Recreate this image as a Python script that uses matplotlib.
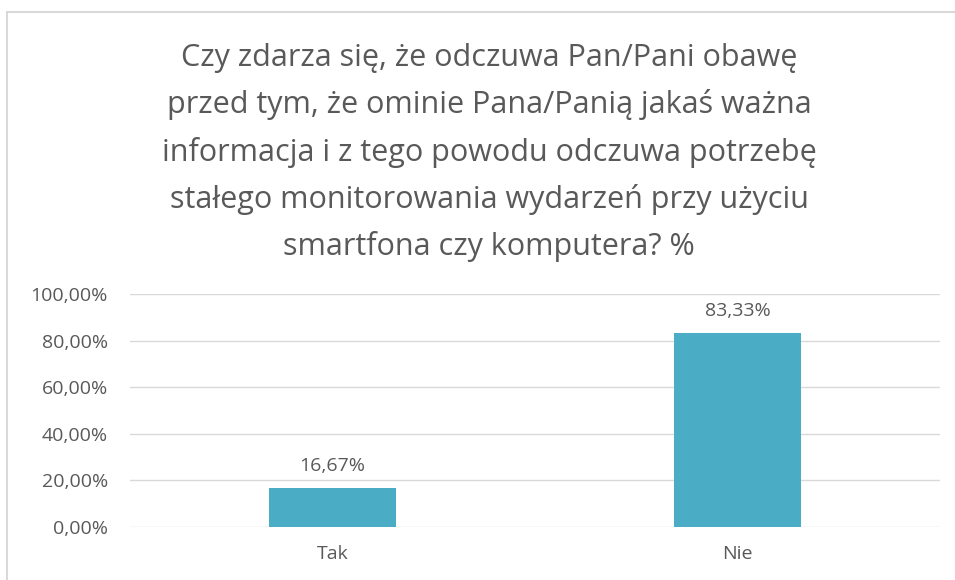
import matplotlib.pyplot as plt
from matplotlib.patches import Rectangle

# data
categories = ["Tak", "Nie"]
values = [16.67, 83.33]
yticks = [0, 20, 40, 60, 80, 100]
title_lines = [
    "Czy zdarza się, że odczuwa Pan/Pani obawę",
    "przed tym, że ominie Pana/Panią jakaś ważna",
    "informacja i z tego powodu odczuwa potrzebę",
    "stałego monitorowania wydarzeń przy użyciu",
    "smartfona czy komputera? %",
]

plt.rcParams['font.family'] = ['Open Sans', 'DejaVu Sans']
grey = "#595959"

fig = plt.figure(figsize=(9.55, 5.8), dpi=100)
W, H = 955, 580
ax = fig.add_axes([130 / W, 1 - 527 / H, 810 / W, (527 - 294) / H])

x = range(len(categories))
bars = ax.bar(x, values, width=0.314, color="#4bacc6", zorder=3)
for b, v in zip(bars, values):
    ax.text(b.get_x() + b.get_width() / 2, v + 5.5, f"{v:.2f}%".replace(".", ","),
            ha="center", va="bottom", fontsize=14, color=grey)

ax.set_xlim(-0.5, 1.5)
ax.set_ylim(0, 100)
ax.set_yticks(yticks)
ax.set_yticklabels([f"{t:.2f}%".replace(".", ",") for t in yticks])
ax.set_xticks(list(x))
ax.set_xticklabels(categories)
ax.tick_params(axis="both", length=0, labelsize=14, labelcolor=grey)
ax.tick_params(axis="y", pad=16)
ax.tick_params(axis="x", pad=13)
ax.grid(axis="y", color="#d9d9d9", linewidth=1, zorder=0)
for s in ax.spines.values():
    s.set_visible(False)

# title
y0 = 58
for i, line in enumerate(title_lines):
    fig.text(489 / W, 1 - (y0 + 47 * i) / H, line, ha="center", va="center",
             fontsize=22, color=grey)

# chart border (partially cropped)
fig.add_artist(Rectangle((7 / W, -0.05), 1.2, 1 - 12 / H + 0.05, transform=fig.transFigure,
                         fill=False, edgecolor="#d9d9d9", linewidth=1.5))

fig.savefig("out.png", dpi=100)
